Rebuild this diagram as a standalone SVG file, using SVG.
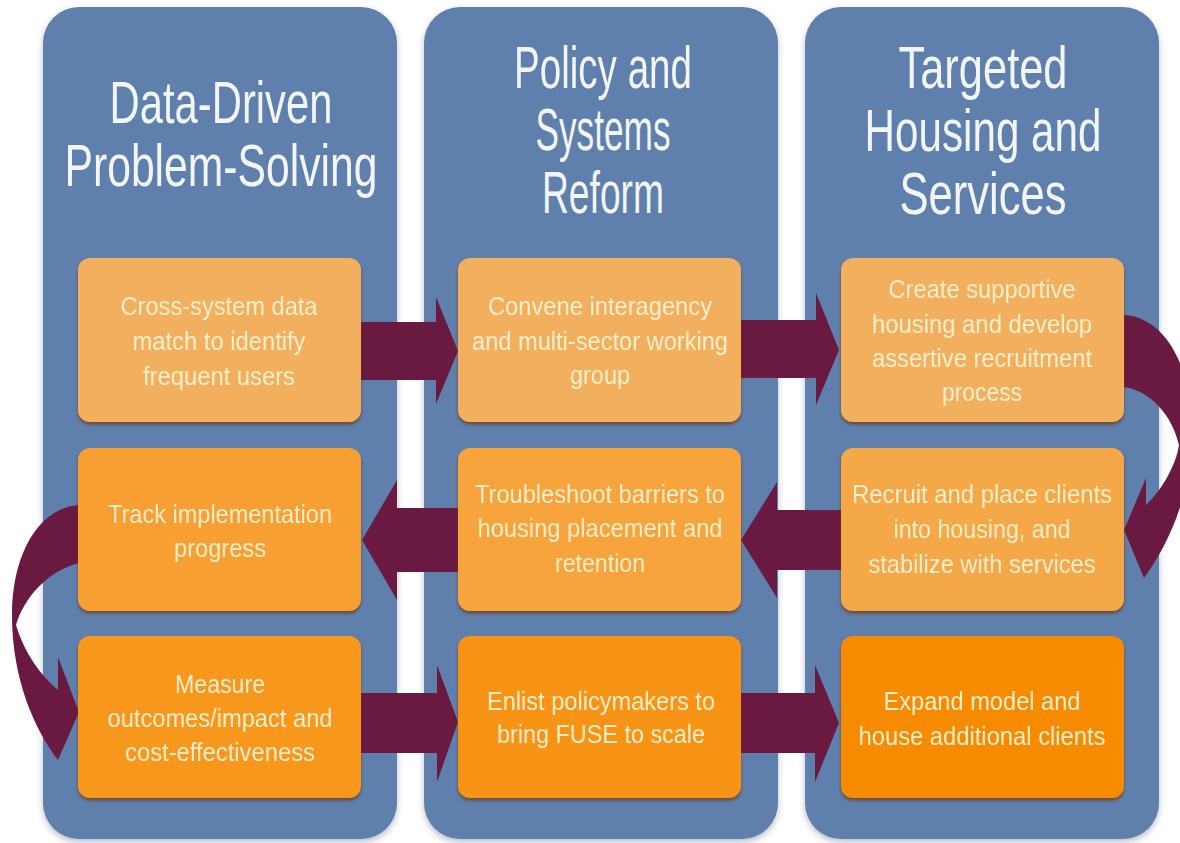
<svg xmlns="http://www.w3.org/2000/svg" width="1180" height="843" viewBox="0 0 1180 843">
  <defs>
    <filter id="panelShadow" x="-10%" y="-5%" width="120%" height="110%">
      <feDropShadow dx="0" dy="3" stdDeviation="3" flood-color="#33425a" flood-opacity="0.35"/>
    </filter>
    <filter id="boxShadow" x="-10%" y="-10%" width="120%" height="125%">
      <feDropShadow dx="0" dy="2.5" stdDeviation="1.5" flood-color="#6b3a14" flood-opacity="0.75"/>
    </filter>
    <style>
      .panel { fill: #5f7fad; filter: url(#panelShadow); }
      .box { filter: url(#boxShadow); }
      .r1 { fill: #f2b05e; }
      .title { font-family: "Liberation Sans Narrow", "Liberation Sans", Arial, sans-serif; font-size: 60px; fill: #f2f5f9; text-anchor: middle; }
      .label { font-family: "Liberation Sans", Arial, sans-serif; font-size: 26px; fill: #fdeecb; text-anchor: middle; }
      .arrow { fill: #6a1a40; }
    </style>
  </defs>

  <rect width="1180" height="843" fill="#ffffff"/>

  <!-- column panels with headings -->
  <g id="col-data">
    <rect class="panel" x="43" y="7" width="354" height="832" rx="36"/>
    <text class="title"><tspan x="221" y="123" textLength="223" lengthAdjust="spacingAndGlyphs">Data-Driven</tspan><tspan x="221" y="186" textLength="313" lengthAdjust="spacingAndGlyphs">Problem-Solving</tspan></text>
  </g>
  <g id="col-policy">
    <rect class="panel" x="424" y="7" width="354" height="832" rx="36"/>
    <text class="title"><tspan x="603" y="88" textLength="178" lengthAdjust="spacingAndGlyphs">Policy and</tspan><tspan x="603" y="150" textLength="135" lengthAdjust="spacingAndGlyphs">Systems</tspan><tspan x="603" y="213" textLength="122" lengthAdjust="spacingAndGlyphs">Reform</tspan></text>
  </g>
  <g id="col-housing">
    <rect class="panel" x="805" y="7" width="354" height="832" rx="36"/>
    <text class="title"><tspan x="983" y="88" textLength="169" lengthAdjust="spacingAndGlyphs">Targeted</tspan><tspan x="983" y="151" textLength="237" lengthAdjust="spacingAndGlyphs">Housing and</tspan><tspan x="983" y="214" textLength="167" lengthAdjust="spacingAndGlyphs">Services</tspan></text>
  </g>

  <!-- connectors -->
  <g id="connectors" class="arrow">
    <!-- row 1, left to right -->
    <path d="M 355 322 H 436 V 297 L 458 351 L 436 404 V 380 H 355 Z"/>
    <path d="M 736 320 H 816 V 293 L 839 350 L 816 405 V 378 H 736 Z"/>
    <!-- turn down on the right -->
    <path d="M 1123 315 C 1162 316, 1192 362, 1192 430 C 1192 495, 1168 545, 1144 578 L 1124 530 L 1146 478 L 1146 505 C 1162 490, 1176 465, 1179 445 C 1172 415, 1150 390, 1123 387 Z"/>
    <!-- row 2, right to left -->
    <path d="M 846 510 H 777 V 482 L 741 540 L 777 598 V 570 H 846 Z"/>
    <path d="M 462 508 H 397 V 480 L 362 540 L 397 600 V 572 H 462 Z"/>
    <!-- turn down on the left -->
    <path d="M 80 505 C 42 506, 12 550, 12 615 C 12 680, 35 730, 58 760 L 79 712 L 58 657 L 58 690 C 40 675, 24 652, 16 625 C 24 598, 48 570, 80 563 Z"/>
    <!-- row 3, left to right -->
    <path d="M 357 693 H 437 V 665 L 458 722 L 437 782 V 753 H 357 Z"/>
    <path d="M 737 693 H 815 V 665 L 839 723 L 815 782 V 753 H 737 Z"/>
  </g>

  <!-- step boxes -->
  <g id="step-cross-system" class="box">
    <rect class="r1" x="78" y="258" width="283" height="164" rx="12"/>
    <text class="label"><tspan x="219" y="315" textLength="197" lengthAdjust="spacingAndGlyphs">Cross-system data</tspan><tspan x="219" y="350" textLength="173" lengthAdjust="spacingAndGlyphs">match to identify</tspan><tspan x="219" y="385" textLength="152" lengthAdjust="spacingAndGlyphs">frequent users</tspan></text>
  </g>
  <g id="step-convene" class="box">
    <rect class="r1" x="458" y="258" width="283" height="164" rx="12"/>
    <text class="label"><tspan x="600" y="315" textLength="224" lengthAdjust="spacingAndGlyphs">Convene interagency</tspan><tspan x="600" y="350" textLength="256" lengthAdjust="spacingAndGlyphs">and multi-sector working</tspan><tspan x="600" y="384" textLength="60" lengthAdjust="spacingAndGlyphs">group</tspan></text>
  </g>
  <g id="step-create-housing" class="box">
    <rect class="r1" x="841" y="258" width="283" height="164" rx="12"/>
    <text class="label"><tspan x="982" y="298" textLength="187" lengthAdjust="spacingAndGlyphs">Create supportive</tspan><tspan x="982" y="333" textLength="220" lengthAdjust="spacingAndGlyphs">housing and develop</tspan><tspan x="982" y="367" textLength="220" lengthAdjust="spacingAndGlyphs">assertive recruitment</tspan><tspan x="982" y="401" textLength="80" lengthAdjust="spacingAndGlyphs">process</tspan></text>
  </g>
  <g id="step-track" class="box">
    <rect x="78" y="448" width="283" height="163" rx="12" fill="#f79f30"/>
    <text class="label"><tspan x="220" y="523" textLength="224" lengthAdjust="spacingAndGlyphs">Track implementation</tspan><tspan x="220" y="557" textLength="92" lengthAdjust="spacingAndGlyphs">progress</tspan></text>
  </g>
  <g id="step-troubleshoot" class="box">
    <rect x="458" y="448" width="283" height="163" rx="12" fill="#f6a43a"/>
    <text class="label"><tspan x="600" y="503" textLength="250" lengthAdjust="spacingAndGlyphs">Troubleshoot barriers to</tspan><tspan x="600" y="537" textLength="245" lengthAdjust="spacingAndGlyphs">housing placement and</tspan><tspan x="600" y="572" textLength="90" lengthAdjust="spacingAndGlyphs">retention</tspan></text>
  </g>
  <g id="step-recruit" class="box">
    <rect x="841" y="448" width="283" height="163" rx="12" fill="#f4a846"/>
    <text class="label"><tspan x="982" y="503" textLength="260" lengthAdjust="spacingAndGlyphs">Recruit and place clients</tspan><tspan x="982" y="538" textLength="177" lengthAdjust="spacingAndGlyphs">into housing, and</tspan><tspan x="982" y="573" textLength="227" lengthAdjust="spacingAndGlyphs">stabilize with services</tspan></text>
  </g>
  <g id="step-measure" class="box">
    <rect x="78" y="636" width="283" height="162" rx="12" fill="#f7971e"/>
    <text class="label"><tspan x="220" y="693" textLength="90" lengthAdjust="spacingAndGlyphs">Measure</tspan><tspan x="220" y="727" textLength="225" lengthAdjust="spacingAndGlyphs">outcomes/impact and</tspan><tspan x="220" y="761" textLength="190" lengthAdjust="spacingAndGlyphs">cost-effectiveness</tspan></text>
  </g>
  <g id="step-enlist" class="box">
    <rect x="458" y="636" width="283" height="162" rx="12" fill="#f79418"/>
    <text class="label"><tspan x="601" y="710" textLength="228" lengthAdjust="spacingAndGlyphs">Enlist policymakers to</tspan><tspan x="601" y="743" textLength="208" lengthAdjust="spacingAndGlyphs">bring FUSE to scale</tspan></text>
  </g>
  <g id="step-expand" class="box">
    <rect x="841" y="636" width="283" height="162" rx="12" fill="#f78b06"/>
    <text class="label"><tspan x="982" y="710" textLength="197" lengthAdjust="spacingAndGlyphs">Expand model and</tspan><tspan x="982" y="745" textLength="247" lengthAdjust="spacingAndGlyphs">house additional clients</tspan></text>
  </g>
</svg>
